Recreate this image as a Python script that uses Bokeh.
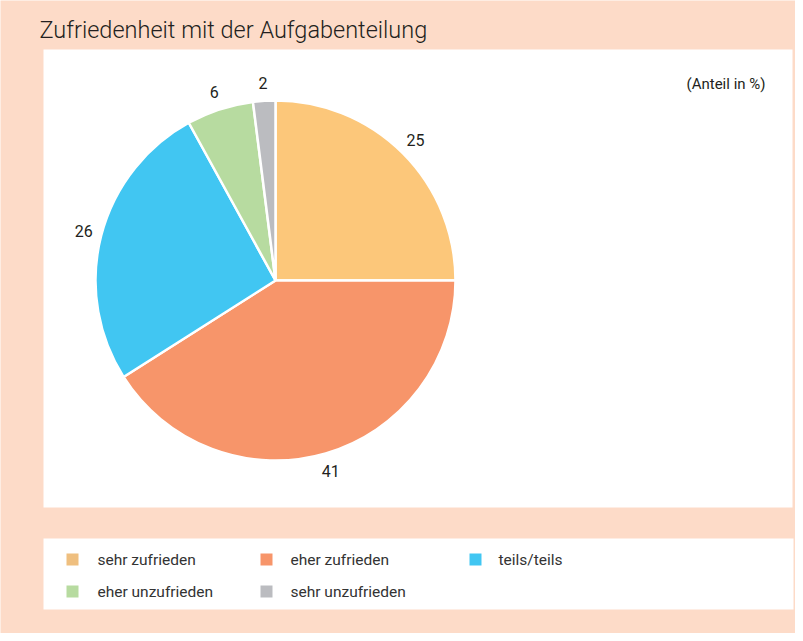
import numpy as np
from bokeh.plotting import figure
from bokeh.models import Range1d, ColumnDataSource
from bokeh.core.properties import value
from bokeh.embed import file_html
from bokeh.resources import INLINE

# ---- data ----
categories = ["sehr zufrieden", "eher zufrieden", "teils/teils", "eher unzufrieden", "sehr unzufrieden"]
shares = [25, 41, 26, 6, 2]
colors = ["#FCC77A", "#F7956A", "#41C6F2", "#B7DBA0", "#BBBCC0"]
legend_colors = ["#EFBF7F", "#F7956A", "#41C6F2", "#B7DBA0", "#BBBCC0"]
title_text = "Zufriedenheit mit der Aufgabenteilung"
unit_text = "(Anteil in %)"

W, H = 795, 633
BG = "#FDDBC8"
FONT = "Roboto"

p = figure(width=W, height=H, output_backend="svg", toolbar_location=None,
           x_range=Range1d(0, W), y_range=Range1d(0, H), min_border=0,
           background_fill_color=BG, border_fill_color=BG, outline_line_color=None)
p.axis.visible = False
p.grid.visible = False

def X(sx):
    return sx - 8

def Y(sy):
    return H + 8 - sy

# panels
p.quad(left=[X(51), X(51)], right=[X(800), X(801)], top=[Y(57), Y(546)], bottom=[Y(515), Y(617)],
       fill_color="white", line_color=None)

# title
p.text(x=[X(47)], y=[Y(37)], text=[title_text], text_font=value("Roboto Light"),
       text_font_size="23.5px", text_color="#231F20", text_baseline="alphabetic")
p.text(x=[X(773)], y=[Y(91)], text=[unit_text], text_font=value(FONT),
       text_font_size="15px", text_color="#231F20", text_align="right", text_baseline="middle")

# pie
cx, cy, R = X(283), Y(288), 180
vals = np.array(shares, dtype=float)
cum = np.cumsum(vals) / vals.sum()
prev = cum - vals / vals.sum()
start = np.pi / 2 - 2 * np.pi * prev
end = np.pi / 2 - 2 * np.pi * cum
src = ColumnDataSource(dict(start=start, end=end, color=colors, cat=categories))
p.wedge(x=cx, y=cy, radius=R, start_angle="start", end_angle="end", direction="clock",
        fill_color="color", line_color="white", line_width=2.5, source=src)

mid = (start + end) / 2
lr = R * 1.1
p.text(x=cx + lr * np.cos(mid), y=cy + lr * np.sin(mid), text=[str(v) for v in shares],
       text_font=value(FONT), text_font_size="16px", text_color="#231F20",
       text_align="center", text_baseline="middle")

# legend
col_sq = [80, 274, 483]
col_tx = [105, 298, 506]
row_y = [567, 599]
idx = np.arange(len(categories))
sq_x = [X(col_sq[i % 3]) for i in idx]
tx_x = [X(col_tx[i % 3]) for i in idx]
ly = [Y(row_y[i // 3]) for i in idx]
p.rect(x=sq_x, y=ly, width=12, height=12, fill_color=legend_colors, line_color=None)
p.text(x=tx_x, y=ly, text=categories, text_font=value(FONT), text_font_size="15.5px",
       text_color="#333333", text_baseline="middle")

open("out.html", "w").write(file_html(p, INLINE))
